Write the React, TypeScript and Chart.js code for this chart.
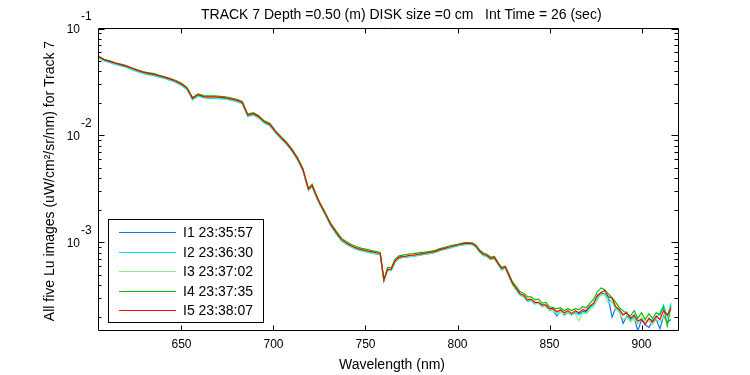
import React, { useEffect, useRef } from 'react';
import { Chart, registerables } from 'chart.js';

Chart.register(...registerables);

// Wavelength grid (nm)
const WAVELENGTH = [
  605, 608, 611, 614, 617, 620, 623, 626, 629, 632, 635, 638, 641, 644, 647, 650, 653, 656, 659, 662,
  665, 668, 671, 674, 677, 680, 683, 686, 689, 692, 695, 698, 701, 704, 707, 710, 713, 716, 719, 721,
  723, 725, 728, 731, 734, 737, 740,
  742, 744, 746, 748, 750, 752, 754, 756, 758, 760,
  762, 764, 766, 768, 770, 772, 774, 776, 778, 780,
  782, 784, 786, 788, 790, 792, 794, 796, 798, 800,
  802, 804, 806, 808, 810, 812, 814, 816, 818, 820,
  822, 824, 826, 828, 830, 832, 834, 836, 838, 840,
  842, 844, 846, 848, 850, 852, 854, 856, 858, 860,
  862, 864, 866, 868, 870, 872, 874, 876, 878, 880,
  882, 884, 886, 888, 890, 892, 894, 896, 898, 900,
  902, 904, 906, 908, 910, 912, 914, 916,
];

// Lu values in units of 1e-4 uW/cm^2/sr/nm
const LU_UNIT = 1e-4;

const LU_I1 = [
  538, 504, 486, 468, 454, 439, 420, 401, 386, 375, 368, 355, 345, 332, 317, 298, 272, 219, 237, 228,
  226, 226, 224, 222, 217, 211, 201, 153, 157, 147, 132, 125, 107, 94, 83.5, 72, 60, 47, 31, 33.5,
  27.5, 23, 18.4, 14.5, 12.2, 10.4, 9.6,
  9.2, 8.85, 8.6, 8.4, 8.25, 8.1, 8.0, 7.85, 7.7, 4.4,
  5.5, 5.5, 6.6, 7.05, 7.25, 7.3, 7.4, 7.45, 7.55, 7.65,
  7.75, 7.85, 7.95, 8.1, 8.35, 8.55, 8.75, 8.95, 9.1, 9.3,
  9.5, 9.6, 9.65, 9.6, 9.1, 8.15, 7.6, 7.4, 6.95, 7.1,
  6.3, 5.6, 5.8, 4.8, 4.05, 3.6, 3.25, 3.1, 2.85, 2.9,
  2.7, 2.7, 2.55, 2.5, 2.35, 2.3, 2.05, 2.3, 2.1, 2.2,
  2.1, 2.2, 2.15, 2.25, 2.25, 2.5, 2.65, 3.1, 3.35, 3.3,
  3.0, 2.0, 2.45, 2.25, 1.75, 2.05, 1.9, 2.0, 1.48, 1.9,
  1.7, 1.6, 1.85, 1.9, 1.56, 2.05, 1.8, 1.9,
];

const LU_I2 = [
  530, 496, 478, 461, 447, 432, 413, 394, 380, 369, 362, 349, 339, 326, 311, 293, 268, 215, 233, 224,
  222, 222, 220, 218, 213, 207, 198, 150, 155, 145, 130, 123, 106, 93, 82.5, 71, 59, 46.5, 30.5, 33,
  27, 22.8, 18.2, 14.4, 12.0, 10.3, 9.5,
  9.1, 8.75, 8.5, 8.3, 8.15, 8.0, 7.9, 7.75, 7.65, 4.45,
  5.45, 5.45, 6.5, 7.0, 7.2, 7.25, 7.35, 7.4, 7.5, 7.6,
  7.7, 7.8, 7.9, 8.05, 8.3, 8.5, 8.7, 8.85, 9.05, 9.2,
  9.4, 9.5, 9.55, 9.5, 9.0, 8.1, 7.55, 7.35, 6.9, 7.05,
  6.2, 5.5, 5.75, 4.75, 4.0, 3.55, 3.2, 3.1, 2.8, 2.85,
  2.65, 2.7, 2.5, 2.55, 2.3, 2.35, 2.1, 2.25, 2.15, 2.2,
  2.1, 2.2, 2.1, 2.2, 2.2, 2.45, 2.6, 3.05, 3.2, 3.3,
  3.0, 2.75, 2.45, 2.3, 2.1, 2.25, 1.85, 2.05, 1.75, 1.95,
  1.8, 1.9, 1.9, 1.95, 2.2, 2.6, 2.0, 2.7,
];

const LU_I3 = [
  543, 508, 490, 472, 458, 443, 423, 404, 389, 378, 371, 358, 347, 334, 319, 300, 274, 221, 238, 229,
  227, 227, 225, 223, 218, 212, 202, 154, 158, 148, 133, 126, 108, 95, 84, 72, 60, 47.5, 31, 33.5,
  27.5, 23.2, 18.5, 14.6, 12.2, 10.5, 9.65,
  9.25, 8.9, 8.65, 8.45, 8.3, 8.15, 8.05, 7.9, 7.75, 4.3,
  5.5, 5.5, 6.6, 7.1, 7.3, 7.35, 7.45, 7.5, 7.6, 7.7,
  7.8, 7.9, 8.0, 8.15, 8.4, 8.6, 8.8, 9.0, 9.15, 9.35,
  9.55, 9.7, 9.7, 9.65, 9.15, 8.2, 7.65, 7.45, 6.95, 7.15,
  6.3, 5.6, 5.8, 4.85, 4.05, 3.6, 3.3, 3.1, 2.85, 2.9,
  2.7, 2.7, 2.55, 2.5, 2.35, 2.3, 2.2, 2.25, 2.15, 2.2,
  2.1, 2.15, 1.85, 2.2, 2.15, 2.35, 2.5, 2.9, 3.3, 3.2,
  2.7, 2.8, 2.4, 2.2, 1.9, 2.0, 1.8, 1.95, 1.75, 2.0,
  1.8, 1.85, 1.7, 1.9, 1.8, 2.0, 2.1, 2.05,
];

const LU_I4 = [
  550, 515, 498, 478, 466, 450, 430, 411, 396, 386, 378, 365, 354, 341, 326, 307, 281, 226, 245, 236,
  234, 234, 232, 230, 224, 218, 208, 158, 163, 153, 137, 130, 111, 98, 87, 75, 62.5, 49, 32, 35,
  28.7, 24, 19.2, 15.2, 12.8, 10.9, 10.1,
  9.6, 9.3, 9.0, 8.8, 8.65, 8.5, 8.35, 8.2, 8.05, 4.4,
  5.8, 5.8, 6.95, 7.45, 7.6, 7.7, 7.8, 7.85, 7.95, 8.05,
  8.1, 8.2, 8.3, 8.45, 8.7, 8.9, 9.1, 9.3, 9.45, 9.6,
  9.8, 9.95, 9.95, 9.9, 9.45, 8.5, 7.95, 7.75, 7.3, 7.4,
  6.5, 5.85, 6.0, 5.05, 4.25, 3.85, 3.45, 3.35, 3.1, 3.1,
  2.9, 2.95, 2.7, 2.75, 2.5, 2.45, 2.4, 2.45, 2.3, 2.4,
  2.3, 2.4, 2.35, 2.5, 2.45, 2.7, 2.95, 3.45, 3.75, 3.6,
  3.3, 3.05, 2.75, 2.45, 2.3, 2.15, 2.05, 2.3, 1.95, 2.2,
  1.9, 2.15, 1.95, 2.2, 2.1, 2.5, 1.65, 2.55,
];

const LU_I5 = [
  545, 510, 492, 474, 460, 445, 425, 406, 391, 380, 373, 360, 349, 336, 321, 302, 276, 222, 240, 231,
  229, 229, 227, 225, 220, 214, 204, 155, 160, 150, 134, 127, 109, 96, 85, 73, 61, 48, 31.5, 34,
  28, 23.5, 18.7, 14.8, 12.4, 10.6, 9.77,
  9.35, 9.0, 8.75, 8.55, 8.4, 8.25, 8.15, 8.0, 7.87, 4.5,
  5.6, 5.6, 6.7, 7.2, 7.4, 7.45, 7.55, 7.6, 7.7, 7.8,
  7.9, 8.0, 8.1, 8.25, 8.5, 8.7, 8.9, 9.1, 9.27, 9.45,
  9.65, 9.77, 9.8, 9.75, 9.25, 8.3, 7.75, 7.55, 7.06, 7.25,
  6.4, 5.7, 5.9, 4.9, 4.1, 3.7, 3.3, 3.2, 2.9, 2.95,
  2.75, 2.75, 2.6, 2.6, 2.4, 2.4, 2.25, 2.35, 2.2, 2.3,
  2.15, 2.3, 2.2, 2.35, 2.3, 2.55, 2.7, 3.2, 3.4, 3.55,
  3.1, 3.0, 2.5, 2.35, 2.1, 2.2, 1.95, 2.1, 1.85, 1.9,
  1.7, 1.95, 1.8, 2.05, 1.9, 2.3, 2.1, 2.4,
];

const SERIES_VALUES = [LU_I1, LU_I2, LU_I3, LU_I4, LU_I5];
const SERIES_LABELS = ['I1 23:35:57', 'I2 23:36:30', 'I3 23:37:02', 'I4 23:37:35', 'I5 23:38:07'];
const SERIES_COLORS = ['#1478f0', '#00f0f0', '#88ee88', '#00c000', '#ff0000'];

const X_TICKS = [650, 700, 750, 800, 850, 900];
const Y_DECADES = [-3, -2, -1];

const TITLE = 'TRACK 7 Depth =0.50 (m) DISK size =0 cm   Int Time = 26 (sec)';
const X_LABEL = 'Wavelength (nm)';
const Y_LABEL = 'All five Lu images (uW/cm\u00B2/sr/nm) for Track 7';

const FONT = '"Liberation Sans", Arial, Helvetica, sans-serif';

const framePlugin = {
  id: 'matlabFrame',
  afterDraw(chart: any) {
    const { ctx, chartArea: a, scales } = chart;
    const xs = scales.x;
    const ys = scales.y;
    const L = a.left, R = a.right, T = a.top, B = a.bottom;
    ctx.save();
    ctx.strokeStyle = '#000';
    ctx.fillStyle = '#000';
    ctx.lineWidth = 1;

    // box
    ctx.beginPath();
    ctx.rect(L, T, R - L, B - T);
    ctx.stroke();

    // x ticks
    ctx.beginPath();
    X_TICKS.forEach((v) => {
      const px = Math.round(xs.getPixelForValue(v)) + 0.5;
      ctx.moveTo(px, B); ctx.lineTo(px, B - 5);
      ctx.moveTo(px, T); ctx.lineTo(px, T + 5);
    });
    // y ticks (major + minor)
    const minV = ys.min, maxV = ys.max;
    for (let e = -4; e <= -1; e++) {
      for (let m = 1; m <= 9; m++) {
        const v = m * Math.pow(10, e);
        if (v < minV * 0.999 || v > maxV * 1.001) continue;
        const py = Math.round(ys.getPixelForValue(v)) + 0.5;
        const major = m === 1;
        ctx.moveTo(L, py); ctx.lineTo(L + (major ? 6 : 3), py);
        ctx.moveTo(R, py); ctx.lineTo(R - (major ? 7 : 4), py);
      }
    }
    ctx.stroke();

    // x tick labels
    ctx.font = '12px ' + FONT;
    ctx.textAlign = 'center';
    ctx.textBaseline = 'middle';
    X_TICKS.forEach((v) => {
      ctx.fillText(String(v), xs.getPixelForValue(v), 345);
    });

    // y tick labels 10^e
    Y_DECADES.forEach((e) => {
      const py = ys.getPixelForValue(Math.pow(10, e));
      ctx.textAlign = 'right';
      ctx.fillText('10', 80, py + 1);
      ctx.textAlign = 'left';
      ctx.fillText(String(e), 81, py - 12);
    });

    // title
    ctx.font = '14px ' + FONT;
    ctx.textAlign = 'left';
    ctx.textBaseline = 'alphabetic';
    ctx.fillText(TITLE, 201, 19);

    // x label
    ctx.textAlign = 'center';
    ctx.textBaseline = 'middle';
    ctx.fillText(X_LABEL, 392, 365);

    // y label
    ctx.save();
    ctx.translate(50, 181);
    ctx.rotate(-Math.PI / 2);
    ctx.fillText(Y_LABEL, 0, 0);
    ctx.restore();

    // legend
    const bx = 108.5, by = 219.5, bw = 155, bh = 103;
    ctx.fillStyle = '#fff';
    ctx.fillRect(bx, by, bw, bh);
    ctx.strokeStyle = '#000';
    ctx.strokeRect(bx, by, bw, bh);
    ctx.textAlign = 'left';
    ctx.textBaseline = 'middle';
    chart.data.datasets.forEach((ds: any, i: number) => {
      const ry = Math.round(232 + i * 19.5) + 0.5;
      ctx.strokeStyle = ds.borderColor;
      ctx.lineWidth = 1;
      ctx.beginPath();
      ctx.moveTo(119, ry); ctx.lineTo(176, ry);
      ctx.stroke();
      ctx.fillStyle = '#000';
      ctx.fillText(ds.label, 183, ry + 0.5);
    });
    ctx.restore();
  },
};

export default function App() {
  const canvasRef = useRef<HTMLCanvasElement | null>(null);

  useEffect(() => {
    if (!canvasRef.current) return;
    const datasets = SERIES_VALUES.map((vals, i) => ({
      label: SERIES_LABELS[i],
      data: WAVELENGTH.map((w, j) => ({ x: w, y: vals[j] * LU_UNIT })),
      borderColor: SERIES_COLORS[i],
      backgroundColor: SERIES_COLORS[i],
      borderWidth: 1.2,
      pointRadius: 0,
      tension: 0,
      fill: false,
      order: SERIES_VALUES.length - 1 - i,
    }));
    const chart = new Chart(canvasRef.current, {
      type: 'line',
      data: { datasets },
      options: {
        animation: false,
        responsive: false,
        maintainAspectRatio: false,
        layout: { padding: { left: 98.5, top: 28.5, right: 71.5, bottom: 44.5 } },
        plugins: {
          legend: { display: false },
          title: { display: false },
          tooltip: { enabled: false },
        },
        scales: {
          x: { type: 'linear', min: 604.9, max: 920.1, display: false },
          y: { type: 'logarithmic', min: 1.5e-4, max: 0.1, display: false },
        },
      },
      plugins: [framePlugin],
    } as any);
    return () => chart.destroy();
  }, []);

  return (
    <div style={{ position: 'absolute', left: 0, top: 0, width: 750, height: 375, background: '#fff' }}>
      <canvas ref={canvasRef} width={750} height={375} style={{ display: 'block' }} />
    </div>
  );
}
